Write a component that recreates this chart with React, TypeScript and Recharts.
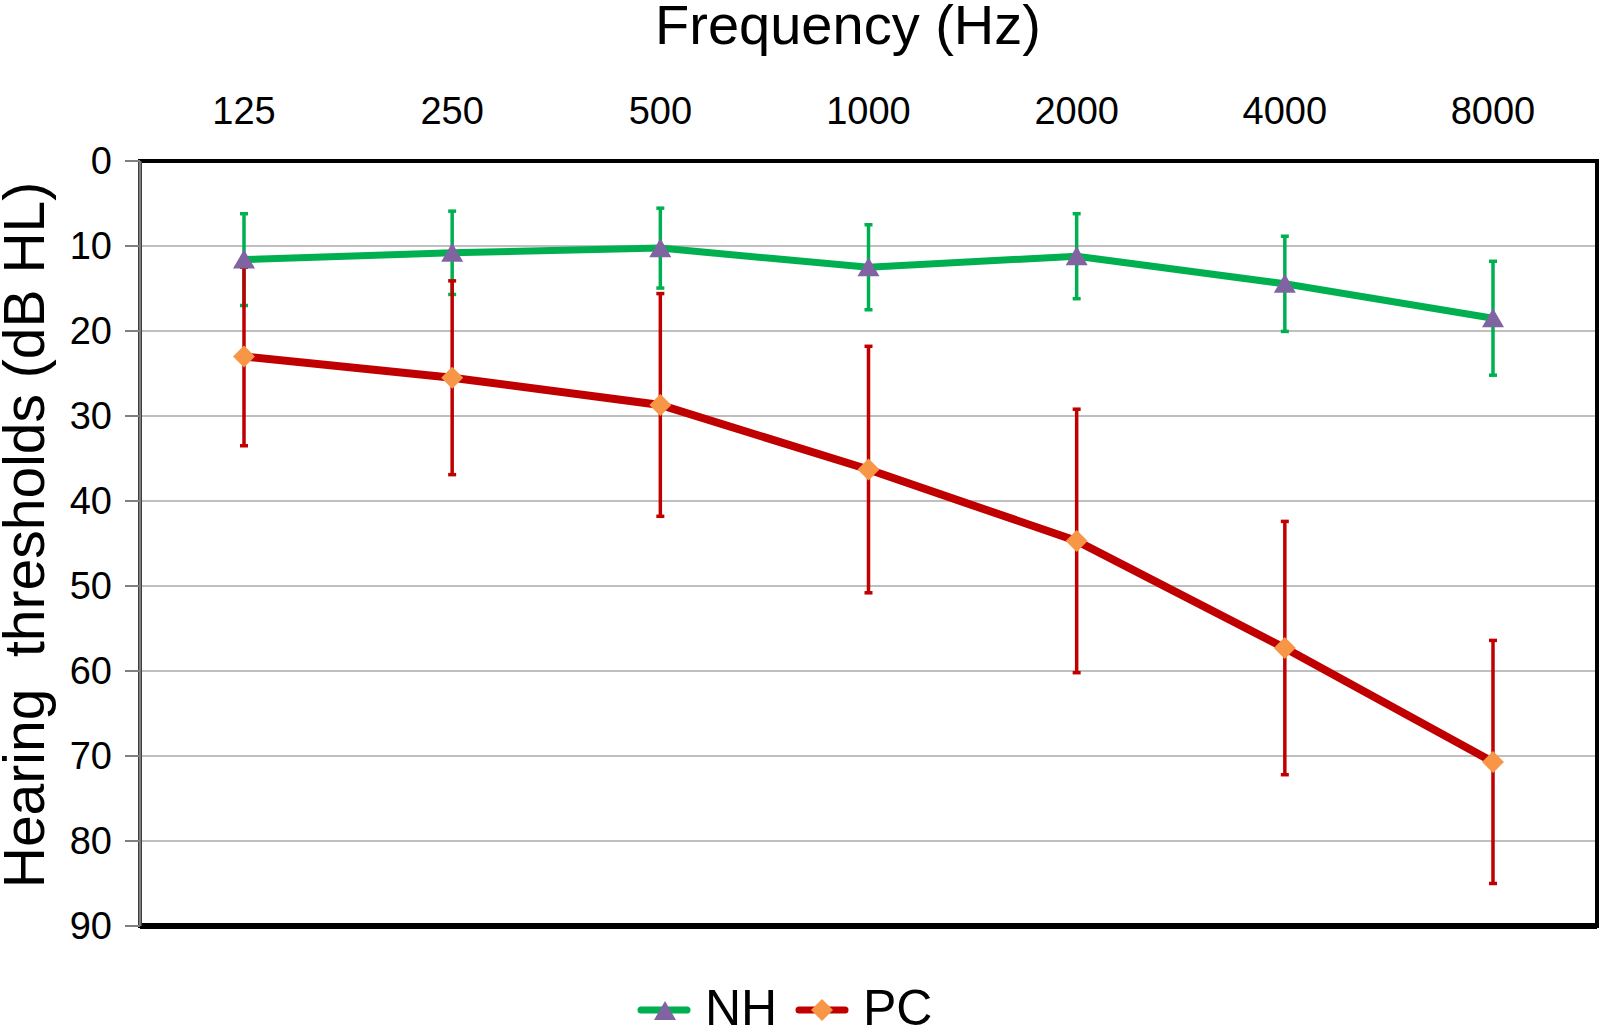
import { LineChart, Line, XAxis, YAxis, CartesianGrid, ErrorBar, ReferenceArea, ReferenceLine } from "recharts"

const frequencies = ["125", "250", "500", "1000", "2000", "4000", "8000"]
const nhMean = [11.6, 10.8, 10.25, 12.5, 11.2, 14.45, 18.5]
const nhSd = [5.4, 4.9, 4.7, 5.0, 5.0, 5.6, 6.7]
const pcMean = [23.0, 25.5, 28.7, 36.3, 44.7, 57.3, 70.7]
const pcSd = [10.5, 11.4, 13.1, 14.5, 15.5, 14.9, 14.3]
const yTicks = [0, 10, 20, 30, 40, 50, 60, 70, 80, 90]

const data = frequencies.map((f, i) => ({
  freq: f,
  nh: nhMean[i],
  nhErr: nhSd[i],
  pc: pcMean[i],
  pcErr: pcSd[i],
}))

const FONT = "'Liberation Sans', Arial, sans-serif"
const GREEN = "#00b050"
const RED = "#c00000"
const PURPLE = "#8064a2"
const ORANGE = "#f79646"

const triangle = (cx: number, cy: number) =>
  `M${cx},${cy - 10} L${cx + 11},${cy + 9} L${cx - 11},${cy + 9} Z`
const diamond = (cx: number, cy: number) =>
  `M${cx},${cy - 11} L${cx + 11},${cy} L${cx},${cy + 11} L${cx - 11},${cy} Z`

const TriangleDot = (props: any) => {
  const { cx, cy, index } = props
  if (cx == null || cy == null) return null
  return <path key={`nh-${index}`} d={triangle(cx, cy)} fill={PURPLE} />
}

const DiamondDot = (props: any) => {
  const { cx, cy, index } = props
  if (cx == null || cy == null) return null
  return <path key={`pc-${index}`} d={diamond(cx, cy)} fill={ORANGE} />
}

export default function App() {
  return (
    <div style={{ position: "absolute", left: 0, top: 0, width: 1604, height: 1034, background: "#fff" }}>
      <LineChart
        width={1604}
        height={1034}
        data={data}
        margin={{ top: 101, right: 7, bottom: 108, left: 80 }}
      >
        <CartesianGrid vertical={false} stroke="#bfbfbf" strokeWidth={2} />
        <XAxis
          dataKey="freq"
          orientation="top"
          height={60}
          padding={{ left: 104, right: 104 }}
          axisLine={false}
          tickLine={false}
          tickSize={0}
          tickMargin={37}
          tick={{ fontSize: 38, fill: "#000", fontFamily: FONT }}
          interval={0}
        />
        {/* unpadded axis used only to frame the plot area */}
        <XAxis xAxisId="frame" dataKey="freq" orientation="bottom" height={0} hide />
        <YAxis
          reversed
          type="number"
          domain={[0, 90]}
          ticks={yTicks}
          interval={0}
          width={60}
          axisLine={{ stroke: "#7f7f7f", strokeWidth: 3 }}
          tickLine={{ stroke: "#7f7f7f", strokeWidth: 2 }}
          tickSize={15}
          tickMargin={13}
          tick={{ fontSize: 38, fill: "#000", fontFamily: FONT }}
        />
        <ReferenceArea xAxisId="frame" y1={0} y2={90} fill="none" stroke="#000" strokeWidth={4} ifOverflow="visible" />
        <ReferenceLine xAxisId="frame" y={90} stroke="#000" strokeWidth={6} ifOverflow="visible" />

        {/* error bars first so the markers sit on top */}
        <Line dataKey="nh" stroke="none" dot={false} activeDot={false} legendType="none" isAnimationActive={false}>
          <ErrorBar dataKey="nhErr" direction="y" stroke={GREEN} strokeWidth={3.5} width={4} />
        </Line>
        <Line dataKey="pc" stroke="none" dot={false} activeDot={false} legendType="none" isAnimationActive={false}>
          <ErrorBar dataKey="pcErr" direction="y" stroke={RED} strokeWidth={3.5} width={4} />
        </Line>
        <Line dataKey="nh" name="NH" stroke={GREEN} strokeWidth={7} dot={TriangleDot} activeDot={false} isAnimationActive={false} />
        <Line dataKey="pc" name="PC" stroke={RED} strokeWidth={8} dot={DiamondDot} activeDot={false} isAnimationActive={false} />
      </LineChart>

      <svg width={1604} height={1034} style={{ position: "absolute", left: 0, top: 0, pointerEvents: "none" }}>
        <text x={848} y={44} textAnchor="middle" fontSize={56} fontFamily={FONT} fill="#000">
          Frequency (Hz)
        </text>
        <text
          x={44}
          y={535}
          transform="rotate(-90 44 535)"
          textAnchor="middle"
          fontSize={57}
          fontFamily={FONT}
          fill="#000"
          style={{ whiteSpace: "pre" }}
        >
          {"Hearing  thresholds (dB HL)"}
        </text>

        {/* legend */}
        <line x1={641} y1={1010} x2={687} y2={1010} stroke={GREEN} strokeWidth={7} strokeLinecap="round" />
        <path d={triangle(665, 1011)} fill={PURPLE} />
        <text x={705} y={1025} fontSize={50} fontFamily={FONT} fill="#000">NH</text>
        <line x1={799} y1={1010} x2={845} y2={1010} stroke={RED} strokeWidth={7} strokeLinecap="round" />
        <path d={diamond(822, 1010)} fill={ORANGE} />
        <text x={863} y={1025} fontSize={50} fontFamily={FONT} fill="#000">PC</text>
      </svg>
    </div>
  )
}
